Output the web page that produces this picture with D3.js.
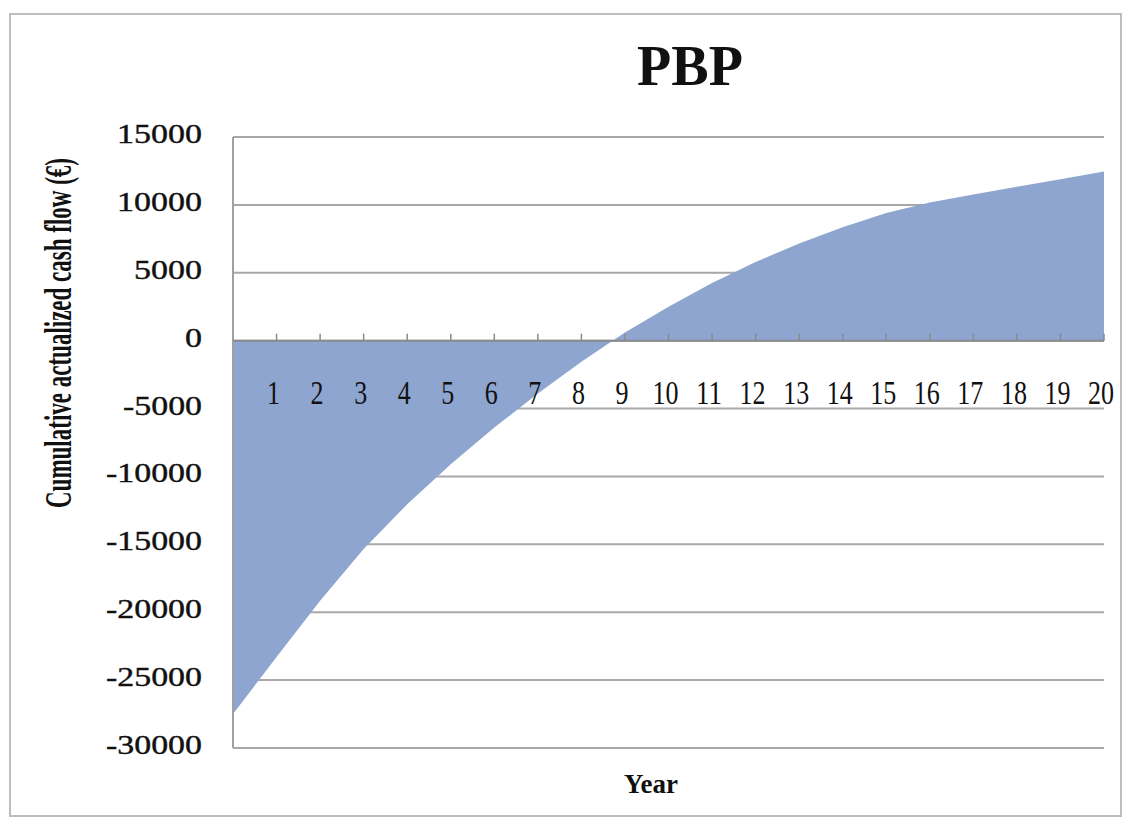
<!DOCTYPE html>
<html>
<head>
<meta charset="utf-8">
<script src="https://cdn.jsdelivr.net/npm/d3@7"></script>
<style>
  html, body { margin: 0; padding: 0; background: #fff; }
  svg { display: block; }
  text { font-family: "Liberation Serif", "Times New Roman", serif; fill: #111; }
</style>
</head>
<body>
<div id="chart"></div>
<script>
// cumulative actualized cash flow, year 0 .. 20
const years = d3.range(0, 21);
const cashFlow = [-27500, -23300, -19150, -15350, -12050, -9100, -6400, -3900, -1550, 600,
                  2500, 4250, 5800, 7150, 8350, 9400, 10180, 10760, 11330, 11890, 12450];
const yTicks = [15000, 10000, 5000, 0, -5000, -10000, -15000, -20000, -25000, -30000];
const xLabels = d3.range(1, 21);

const width = 1125, height = 822;

const svg = d3.select('#chart').append('svg')
    .attr('width', width)
    .attr('height', height);

// outer frame
svg.append('rect')
    .attr('x', 10).attr('y', 14)
    .attr('width', 1111).attr('height', 802)
    .attr('fill', 'none')
    .attr('stroke', '#bdbdbd')
    .attr('stroke-width', 2);

const x = d3.scalePoint()
    .domain(years)
    .range([233, 1104]);

const y = d3.scaleLinear()
    .domain([-30000, 15000])
    .range([748, 137]);

// gridlines (under the area)
svg.append('g').selectAll('line')
    .data(yTicks)
  .enter().append('line')
    .attr('x1', 233).attr('x2', 1104)
    .attr('y1', d => y(d)).attr('y2', d => y(d))
    .attr('stroke', '#a8a8a8')
    .attr('stroke-width', 2);

const area = d3.area()
    .x((d, i) => x(years[i]))
    .y0(y(0))
    .y1(d => y(d));

svg.append('path')
    .datum(cashFlow)
    .attr('d', area)
    .attr('fill', '#8ea5cf');

// value axis line
svg.append('line')
    .attr('x1', 233).attr('x2', 233)
    .attr('y1', y(15000)).attr('y2', y(-30000))
    .attr('stroke', '#a0a0a0')
    .attr('stroke-width', 2);

// category axis on zero
svg.append('line')
    .attr('x1', 233).attr('x2', 1104)
    .attr('y1', y(0)).attr('y2', y(0))
    .attr('stroke', '#8a8a8a')
    .attr('stroke-width', 2);

svg.append('g').selectAll('line')
    .data(xLabels)
  .enter().append('line')
    .attr('x1', d => x(d)).attr('x2', d => x(d))
    .attr('y1', y(0)).attr('y2', y(0) - 7)
    .attr('stroke', '#8a8a8a')
    .attr('stroke-width', 1.5);

// y tick labels
svg.append('g').selectAll('text')
    .data(yTicks)
  .enter().append('text')
    .attr('x', 202)
    .attr('y', d => y(d) + 6)
    .attr('text-anchor', 'end')
    .attr('font-size', 27)
    .attr('stroke', '#111')
    .attr('stroke-width', 0.4)
    .attr('textLength', d => String(Math.abs(d)).length * 17 + (d < 0 ? 11 : 0))
    .attr('lengthAdjust', 'spacingAndGlyphs')
    .text(d => d);

// x tick labels
svg.append('g').selectAll('text')
    .data(xLabels)
  .enter().append('text')
    .attr('x', d => x(d) - 3)
    .attr('y', 404)
    .attr('text-anchor', 'middle')
    .attr('font-size', 34)
    .attr('textLength', d => d < 10 ? 13 : 26)
    .attr('lengthAdjust', 'spacingAndGlyphs')
    .text(d => d);

// title
svg.append('text')
    .attr('x', 690).attr('y', 85)
    .attr('text-anchor', 'middle')
    .attr('font-size', 56)
    .attr('font-weight', 'bold')
    .text('PBP');

// axis titles
svg.append('text')
    .attr('transform', 'translate(71,333) rotate(-90) scale(1,1.6)')
    .attr('text-anchor', 'middle')
    .attr('font-size', 24)
    .attr('font-weight', 'bold')
    .attr('textLength', 350)
    .attr('lengthAdjust', 'spacingAndGlyphs')
    .text('Cumulative actualized cash flow (€)');

svg.append('text')
    .attr('x', 651).attr('y', 793)
    .attr('text-anchor', 'middle')
    .attr('font-size', 27)
    .attr('font-weight', 'bold')
    .text('Year');
</script>
</body>
</html>
